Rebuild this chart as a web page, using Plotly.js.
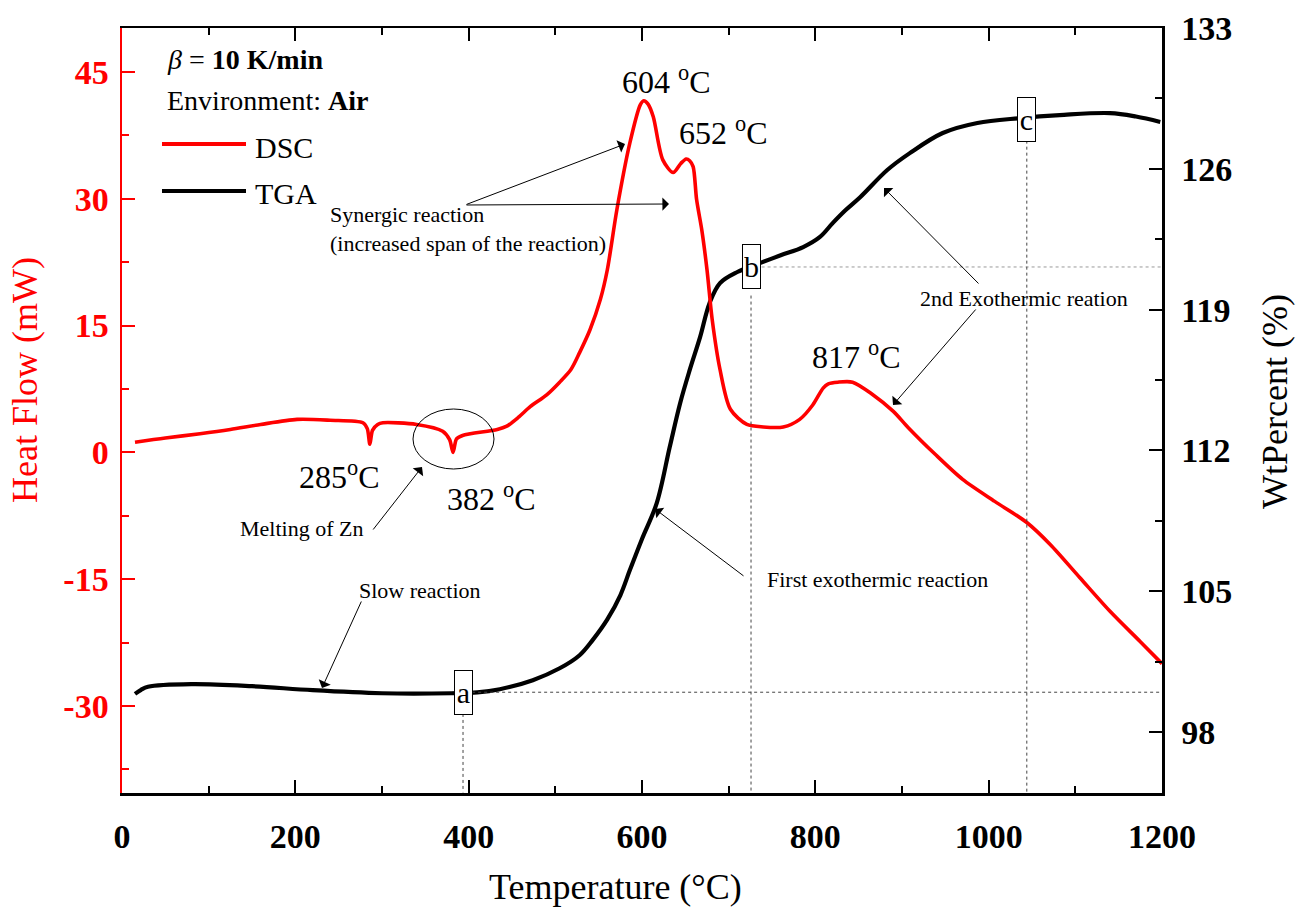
<!DOCTYPE html>
<html>
<head>
<meta charset="utf-8">
<script src="https://cdn.plot.ly/plotly-3.0.1.min.js"></script>
<style>html,body{margin:0;padding:0;background:#fff;}#chart{width:1297px;height:918px;}</style>
</head>
<body>
<div id="chart"></div>
<script>
// ---- Data ----
const dscTemp = [15,50,90,125,160,202,240,278,283,286,289,295,301,340,370,378,382,386,393,433,444,458,471,490,505,518,528,540,552,560,571,586,598,602,607,613,624,636,645,651,655,659,663,669,675,681,690,702,721,740,763,782,797,809,815,826,843,866,890,907,938,970,1007,1044,1071,1105,1140,1175,1200];
const dscHeat = [1.2,1.7,2.2,2.7,3.3,3.9,3.8,3.5,2.8,0.95,2.6,3.3,3.5,3.3,2.5,1.5,0.0,1.6,2.0,2.7,3.1,4.2,5.4,6.8,8.3,9.8,11.8,14.5,18.1,21.6,28.7,36.6,41.1,41.6,41.2,39.7,34.6,33.1,34.2,34.7,34.5,33.8,29.9,26.3,21.6,15.7,9.8,5.1,3.3,3.0,3.0,3.9,5.6,7.6,8.1,8.3,8.3,6.85,4.85,2.95,-0.2,-3.2,-5.8,-8.3,-10.9,-14.8,-18.8,-22.4,-25.0];

const tgaTemp = [15,22,30,80,150,220,300,380,410,436,474,505,528,543,560,575,586,600,617,632,644,655,667,678,690,710,736,760,786,805,820,835,852,883,909,947,987,1036,1082,1140,1170,1198];
const tgaWt = [99.9,100.1,100.25,100.38,100.28,100.08,99.93,99.93,99.97,100.13,100.58,101.17,101.82,102.57,103.6,104.8,106.05,107.6,109.38,112.17,114.35,115.99,117.63,119.33,120.32,120.87,121.31,121.7,122.11,122.6,123.3,123.95,124.6,125.94,126.78,127.78,128.28,128.52,128.67,128.77,128.6,128.33];

const xTicks = [0,200,400,600,800,1000,1200];
const heatTicks = [-30,-15,0,15,30,45];
const wtTicks = [98,105,112,119,126,133];

// marker points a, b, c (temperature, wt%)
const markLabels = ['a','b','c'];
const markTemp = [393.5, 725.8, 1044];
const markWt = [99.98, 121.12, 128.45];

// ---- Layout helpers (plot area 122..1162 x 28..793) ----
const L=122, R=1162, T=28, B=793;
const px = x => (x-L)/(R-L);
const py = y => (B-y)/(B-T);
const FONT = 'Liberation Serif, Times New Roman, serif';

const traces = [
  {x: tgaTemp, y: tgaWt, yaxis: 'y', type: 'scatter', mode: 'lines',
   line: {color: '#000', width: 4.2, shape: 'spline', smoothing: 1.0}, name: 'TGA', hoverinfo: 'skip'},
  {x: dscTemp, y: dscHeat, yaxis: 'y2', type: 'scatter', mode: 'lines',
   line: {color: '#ff0000', width: 3.6, shape: 'spline', smoothing: 0.8}, name: 'DSC', hoverinfo: 'skip'}
];

function txt(x, y, text, size, opts) {
  return Object.assign({xref:'paper', yref:'paper', x: px(x), y: py(y), text: text, showarrow: false,
    xanchor: 'left', yanchor: 'middle', font: {family: FONT, size: size, color: '#000'}}, opts || {});
}
function arrow(tx, ty, hx, hy) {
  return {xref:'paper', yref:'paper', x: px(hx), y: py(hy), axref:'pixel', ayref:'pixel',
    ax: tx-hx, ay: ty-hy, text:'', showarrow:true, arrowhead:1, arrowsize:2.2, arrowwidth:1,
    arrowcolor:'#000', standoff:0, startstandoff:0};
}

const annotations = [
  txt(165, 60, '<i>β</i> = <b>10 K/min</b>', 28),
  txt(165, 100, 'Environment: <b>Air</b>', 28),
  txt(253, 147, 'DSC', 30),
  txt(253, 193, 'TGA', 30),
  txt(666, 80, '604 <sup>o</sup>C', 32, {xanchor:'center'}),
  txt(723, 131, '652 <sup>o</sup>C', 32, {xanchor:'center'}),
  txt(856, 355, '817 <sup>o</sup>C', 32, {xanchor:'center'}),
  txt(339, 475, '285<sup>o</sup>C', 32, {xanchor:'center'}),
  txt(491, 497, '382 <sup>o</sup>C', 32, {xanchor:'center'}),
  txt(328, 214, 'Synergic reaction', 22),
  txt(328, 243, '(increased span of the reaction)', 22),
  txt(238, 528, 'Melting of Zn', 22),
  txt(357, 590, 'Slow reaction', 22),
  txt(765, 579, 'First exothermic reaction', 22),
  txt(918, 298, '2nd Exothermic reation', 22),
  arrow(465, 205, 625, 144),
  arrow(465, 205, 669, 204),
  arrow(372, 531, 422, 467),
  arrow(362, 600, 322, 688),
  arrow(745, 577, 655, 509),
  arrow(980, 285, 884, 188),
  arrow(977, 308, 893, 405),
  // axis titles
  txt(642-27, 887, 'Temperature (°C)', 36, {xanchor:'center'}),
  {xref:'paper', yref:'paper', x: px(25), y: py(380), text:'Heat Flow (mW)', showarrow:false, textangle:-90,
   xanchor:'center', yanchor:'middle', font:{family:FONT, size:36, color:'#ff0000'}},
  {xref:'paper', yref:'paper', x: px(1275), y: py(402), text:'WtPercent (%)', showarrow:false, textangle:-90,
   xanchor:'center', yanchor:'middle', font:{family:FONT, size:36, color:'#000'}}
];
// a, b, c boxes
markLabels.forEach((lab, i) => {
  annotations.push({xref:'x', yref:'y', x: markTemp[i], y: markWt[i], text: lab, showarrow:false,
    xanchor:'center', yanchor:'middle', width:15, height:41, borderpad:1, borderwidth:1, bordercolor:'#000',
    bgcolor:'#fff', font:{family:FONT, size:30, color:'#000'}});
});

const dot = {color:'#444', width:1, dash:'dot'};
const shapes = [
  // legend lines
  {type:'line', xref:'paper', yref:'paper', x0:px(162), x1:px(246), y0:py(144), y1:py(144), line:{color:'#ff0000', width:4}},
  {type:'line', xref:'paper', yref:'paper', x0:px(162), x1:px(246), y0:py(191), y1:py(191), line:{color:'#000', width:4}},
  // ellipse around Zn melting
  {type:'circle', xref:'paper', yref:'paper', x0:px(413), x1:px(494), y0:py(409), y1:py(469), line:{color:'#000', width:1}},
  // dotted guides
  {type:'line', xref:'x', yref:'y', x0:404, x1:1200, y0:markWt[0], y1:markWt[0], line:dot},
  {type:'line', xref:'x', yref:'y', x0:markTemp[0], x1:markTemp[0], y0:98.9, y1:95, line:dot},
  {type:'line', xref:'x', yref:'y', x0:738, x1:1200, y0:markWt[1], y1:markWt[1], line:{color:'#999', width:1, dash:'dot'}},
  {type:'line', xref:'x', yref:'y', x0:markTemp[1], x1:markTemp[1], y0:119.7, y1:95, line:dot},
  {type:'line', xref:'x', yref:'y', x0:markTemp[2], x1:markTemp[2], y0:127.4, y1:95, line:dot}
];

const tickFontBold = (c) => ({family: FONT, size: 34, color: c, weight: 'bold'});

const layout = {
  width: 1297, height: 918,
  margin: {l: L, r: 1297-R, t: T, b: 918-B},
  paper_bgcolor: '#fff', plot_bgcolor: '#fff',
  showlegend: false,
  xaxis: {range: [0, 1200], tickvals: xTicks, ticktext: xTicks.map(String), ticks: 'inside', ticklen: 13, tickwidth: 2,
    tickcolor: '#000', showline: true, linecolor: '#000', linewidth: 2.5, mirror: 'ticks', showgrid: false, zeroline: false,
    tickfont: tickFontBold('#000'), ticklabelstandoff: 12,
    minor: {dtick: 100, tick0: 0, ticks: 'inside', ticklen: 7, tickwidth: 2, tickcolor: '#000', showgrid: false}},
  yaxis: {range: [94.97, 133], side: 'right', tickvals: wtTicks, ticktext: wtTicks.map(String), ticks: 'inside', ticklen: 13, tickwidth: 2,
    tickcolor: '#000', showline: true, linecolor: '#000', linewidth: 2.5, showgrid: false, zeroline: false,
    tickfont: tickFontBold('#000'), ticklabelstandoff: 10,
    minor: {dtick: 3.5, tick0: 98, ticks: 'inside', ticklen: 7, tickwidth: 2, tickcolor: '#000', showgrid: false}},
  yaxis2: {range: [-40.3, 50.2], overlaying: 'y', side: 'left', tickvals: heatTicks, ticktext: heatTicks.map(String),
    ticks: 'inside', ticklen: 13, tickwidth: 2, tickcolor: '#ff0000', showline: true, linecolor: '#ff0000', linewidth: 2.5,
    showgrid: false, zeroline: false, tickfont: tickFontBold('#ff0000'), ticklabelstandoff: 4,
    minor: {dtick: 7.5, tick0: 0, ticks: 'inside', ticklen: 7, tickwidth: 2, tickcolor: '#ff0000', showgrid: false}},
  annotations: annotations,
  shapes: shapes
};

Plotly.newPlot('chart', traces, layout, {displayModeBar: false, staticPlot: true});
</script>
</body>
</html>
